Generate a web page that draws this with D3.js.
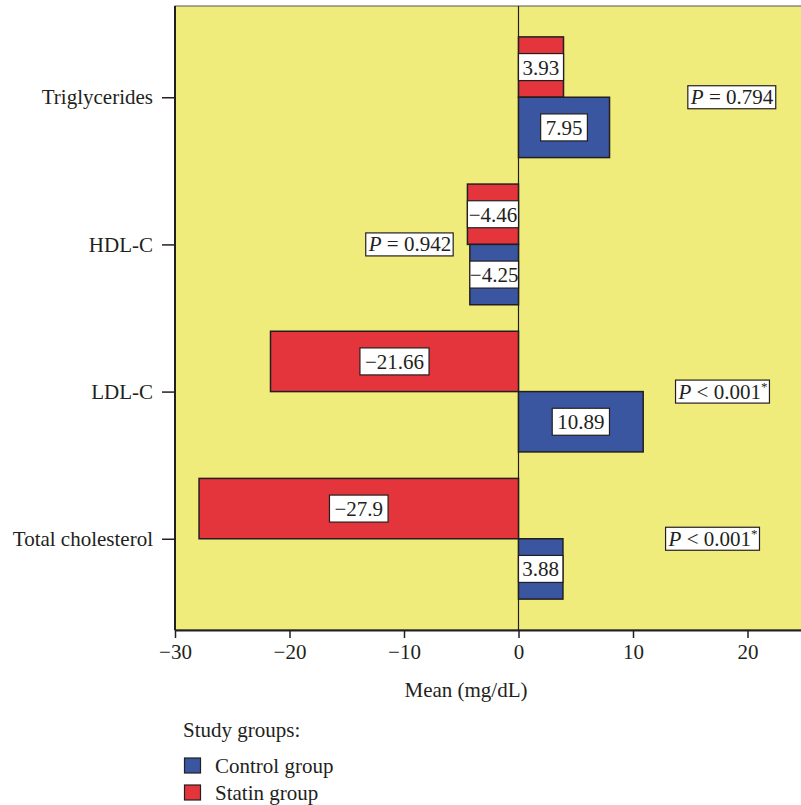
<!DOCTYPE html>
<html>
<head>
<meta charset="utf-8">
<script src="https://cdn.jsdelivr.net/npm/d3@7"></script>
<style>
  html, body { margin: 0; padding: 0; background: #ffffff; }
  svg text { font-family: "Liberation Serif", "DejaVu Serif", serif; fill: #231f20; }
</style>
</head>
<body>
<svg id="chart" width="801" height="805"></svg>
<script>
// ---- data ----
const categories = ["Triglycerides", "HDL-C", "LDL-C", "Total cholesterol"];
const statinValues = [3.93, -4.46, -21.66, -27.9];
const controlValues = [7.95, -4.25, 10.89, 3.88];
const statinLabels = ["3.93", "\u22124.46", "\u221221.66", "\u221227.9"];
const controlLabels = ["7.95", "\u22124.25", "10.89", "3.88"];
const pOperators = ["=", "=", "<", "<"];
const pValues = ["0.794", "0.942", "0.001", "0.001"];
const pStars = [false, false, true, true];
const pPositions = [18.65, -9.48, 17.86, 16.99];
const xTicks = [-30, -20, -10, 0, 10, 20];
const seriesNames = ["Control group", "Statin group"];
const seriesColors = ["#3a56a0", "#e3353b"];
const legendTitle = "Study groups:";
const xTitle = "Mean (mg/dL)";

// ---- layout ----
const svg = d3.select("#chart");
const plotLeft = 175, plotTop = 6, plotBottom = 630;
const x = d3.scaleLinear().domain([-30, 25]).range([plotLeft, plotLeft + 55 * 11.45]);
const y = d3.scalePoint().domain(categories).range([plotTop, plotBottom]).padding(0.62);
const barH = y.step() * 0.41;
const fs = 20;
const fsAxis = 21;

// plot background
svg.append("rect")
  .attr("x", plotLeft).attr("y", plotTop)
  .attr("width", x(25) - plotLeft).attr("height", plotBottom - plotTop)
  .attr("fill", "#f0ec7c").attr("stroke", "#555").attr("stroke-width", 1);

// zero line
svg.append("line")
  .attr("x1", x(0)).attr("x2", x(0))
  .attr("y1", plotTop).attr("y2", plotBottom)
  .attr("stroke", "#231f20").attr("stroke-width", 1.2);

// bars
const barData = [];
categories.forEach((c, i) => {
  barData.push({cat: c, v: statinValues[i], label: statinLabels[i], color: seriesColors[1], top: y(c) - barH});
  barData.push({cat: c, v: controlValues[i], label: controlLabels[i], color: seriesColors[0], top: y(c)});
});

const bars = svg.append("g");
bars.selectAll("rect").data(barData).join("rect")
  .attr("x", d => Math.min(x(0), x(d.v)))
  .attr("width", d => Math.abs(x(d.v) - x(0)))
  .attr("y", d => d.top)
  .attr("height", barH)
  .attr("fill", d => d.color)
  .attr("stroke", "#231f20").attr("stroke-width", 1.5);

// value labels
const lab = svg.append("g");
barData.forEach(d => {
  const cx = (x(0) + x(d.v)) / 2;
  const cy = d.top + barH / 2;
  const g = lab.append("g");
  const r = g.append("rect");
  const t = g.append("text")
    .attr("x", cx).attr("y", cy + 7.5)
    .attr("text-anchor", "middle")
    .attr("font-size", fsAxis)
    .text(d.label);
  const tw = t.node().getComputedTextLength();
  const bw = Math.min(tw + 10, Math.abs(x(d.v) - x(0)));
  r.attr("x", cx - bw / 2).attr("y", cy - 13.5)
   .attr("width", bw).attr("height", 27)
   .attr("fill", "#ffffff").attr("stroke", "#231f20").attr("stroke-width", 1.2);
});

// p-value boxes
categories.forEach((c, i) => {
  const cx = x(pPositions[i]);
  const cy = y(c);
  const g = svg.append("g");
  const r = g.append("rect");
  const t = g.append("text")
    .attr("x", cx).attr("y", cy + 7)
    .attr("text-anchor", "middle")
    .attr("font-size", fsAxis);
  t.append("tspan").attr("font-style", "italic").text("P");
  t.append("tspan").text(" " + pOperators[i] + " " + pValues[i]);
  if (pStars[i]) {
    t.append("tspan").attr("font-size", 13).attr("dy", -8).text("*");
  }
  const bb = t.node().getBBox();
  r.attr("x", bb.x - 2).attr("y", cy - 11.5)
   .attr("width", bb.width + 4).attr("height", 23)
   .attr("fill", "#ffffff").attr("stroke", "#231f20").attr("stroke-width", 1.2);
});

// x axis
const fmt = v => (v < 0 ? "\u2212" + Math.abs(v) : String(v));
const xAxis = svg.append("g")
  .attr("transform", `translate(0,${plotBottom})`)
  .call(d3.axisBottom(x).tickValues(xTicks).tickFormat(fmt).tickSize(8).tickSizeOuter(0));
xAxis.select(".domain").attr("stroke", "#231f20").attr("stroke-width", 2);
xAxis.selectAll(".tick line").attr("stroke", "#231f20").attr("stroke-width", 1.5);
xAxis.selectAll(".tick text")
  .attr("font-size", fsAxis).attr("font-family", "Liberation Serif, serif")
  .attr("fill", "#231f20").attr("dy", "1.0em").attr("y", 8);

// y axis
const yAxis = svg.append("g")
  .attr("transform", `translate(${plotLeft},0)`)
  .call(d3.axisLeft(y).tickSize(13).tickSizeOuter(0).tickPadding(9));
yAxis.select(".domain").attr("stroke", "#231f20").attr("stroke-width", 2)
  .attr("d", `M0,${plotTop}V${plotBottom}`);
yAxis.selectAll(".tick line").attr("stroke", "#231f20").attr("stroke-width", 1.5);
yAxis.selectAll(".tick text")
  .attr("font-size", fsAxis).attr("font-family", "Liberation Serif, serif")
  .attr("fill", "#231f20");

// x title
svg.append("text")
  .attr("x", 466).attr("y", 697)
  .attr("text-anchor", "middle")
  .attr("font-size", fsAxis)
  .text(xTitle);

// legend
svg.append("text").attr("x", 183).attr("y", 737).attr("font-size", fsAxis).text(legendTitle);
const legendOrder = [0, 1];
legendOrder.forEach((k, i) => {
  const ly = 758 + i * 27;
  svg.append("rect")
    .attr("x", 184.5).attr("y", ly)
    .attr("width", 16).attr("height", 15)
    .attr("fill", seriesColors[k]).attr("stroke", "#231f20").attr("stroke-width", 1.2);
  svg.append("text").attr("x", 215).attr("y", ly + 15).attr("font-size", fsAxis).text(seriesNames[k]);
});
</script>
</body>
</html>
